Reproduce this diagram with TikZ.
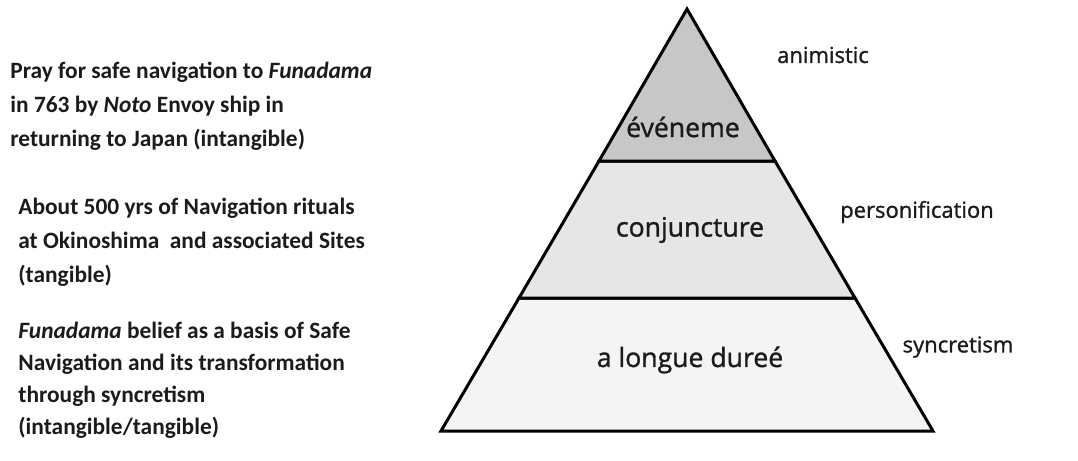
\documentclass[tikz,border=0pt]{standalone}
\usepackage{fontspec}
\setmainfont{Carlito}
\newfontfamily\labelfont{Open Sans}[FakeBold=1.2]
\usepackage{xcolor}
\usepackage{tikz}
\usetikzlibrary{positioning}
\definecolor{inkblack}{RGB}{28,26,27}
\definecolor{topgray}{RGB}{198,199,201}
\definecolor{midgray}{RGB}{229,230,232}
\definecolor{lowgray}{RGB}{244,244,244}
\tikzset{
  leftnote/.style={anchor=west, align=left, inner sep=0pt, text=inkblack,
    font=\fontsize{11.7}{17}\selectfont\bfseries},
  tierlabel/.style={inner sep=0pt, text=inkblack, font=\labelfont\fontsize{13.3}{16}\selectfont},
  sidelabel/.style={inner sep=0pt, text=inkblack, font=\labelfont\fontsize{11}{13}\selectfont}
}

\begin{document}
\begin{tikzpicture}[x=0.5pt, y=-0.5pt]
      \useasboundingbox (0,0) rectangle (1078,461);
      % pyramid corners
      \coordinate (apex) at (687,9);
      \coordinate (l1) at (599,161);  \coordinate (r1) at (775,161);
      \coordinate (l2) at (519,298);  \coordinate (r2) at (855,298);
      \coordinate (l3) at (441,431);  \coordinate (r3) at (933,431);
      \draw[fill=lowgray, line width=1.5pt] (l2) -- (r2) -- (r3) -- (l3) -- cycle;
      \draw[fill=midgray, line width=1.5pt] (l1) -- (r1) -- (r2) -- (l2) -- cycle;
      \draw[fill=topgray, line width=1.5pt, line join=miter] (apex) -- (r1) -- (l1) -- cycle;
      \node[tierlabel] (evt) at (683,127) {événeme};
      \node[tierlabel] (conj) at (690,230) {conjuncture};
      \node[tierlabel] (duree) at (690,360) {a longue dureé};
      \node[sidelabel] (anim) at (823,55) {animistic};
      \node[sidelabel] (pers) at (917,212) {personification};
      \node[sidelabel] (sync) at (958,347) {syncretism};
      % notes on the left
      \node[leftnote] (pray) at (10,106) {Pray for safe navigation to \textit{Funadama}\\in 763 by \textit{Noto} Envoy ship in\\returning to Japan (intangible)};
      \node[leftnote] (rituals) at (18,242) {About 500 yrs of Navigation rituals\\at Okinoshima\ \ and associated Sites\\(tangible)};
      \node[leftnote, font=\fontsize{11.7}{16}\selectfont\bfseries] (belief) at (18,380) {\textit{Funadama} belief as a basis of Safe\\Navigation and its transformation\\through syncretism\\(intangible/tangible)};
    \end{tikzpicture}
\end{document}
